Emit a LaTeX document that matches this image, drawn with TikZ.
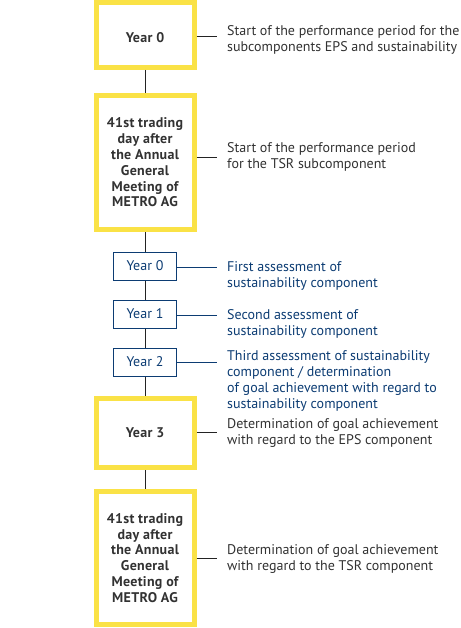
\documentclass[tikz,border=0pt]{standalone}
\usepackage{fontspec}
\setmainfont{PT Sans}
\definecolor{myyellow}{RGB}{250,226,70}
\definecolor{myblue}{RGB}{12,60,115}
\definecolor{mygray}{RGB}{50,50,50}
\definecolor{myline}{RGB}{35,35,35}
\begin{document}
\begin{tikzpicture}[x=1pt,y=-1pt,
  bigbox/.style={draw=myyellow,line width=5pt,minimum width=98pt,inner sep=0pt,align=center,
    font=\fontsize{14}{15.8}\selectfont\bfseries\addfontfeatures{LetterSpace=2},text=mygray},
  smallbox/.style={draw=myblue,line width=1pt,minimum width=63pt,minimum height=28pt,inner sep=0pt,
    font=\fontsize{14}{16}\selectfont,text=myblue},
  desc/.style={anchor=west,inner sep=0pt,align=left,font=\fontsize{14}{16}\selectfont,text=mygray},
  bdesc/.style={desc,text=myblue},
  conn/.style={draw=myline,line width=1pt},
  bconn/.style={draw=myblue,line width=1pt}]
\useasboundingbox (0,0) rectangle (460,628);
\node[bigbox,minimum height=65pt] (b1) at (145,35) {\raisebox{-8pt}[0pt][0pt]{Year 0}};
\node[bigbox,minimum height=134pt] (b2) at (145,162.5) {41st trading\\day after\\the Annual\\General\\Meeting of\\METRO AG};
\node[smallbox] (s0) at (145,266) {Year 0};
\node[smallbox] (s1) at (145,314) {Year 1};
\node[smallbox] (s2) at (145,362) {Year 2};
\node[bigbox,minimum height=69pt] (b3) at (145,433) {Year 3};
\node[bigbox,minimum height=133pt] (b4) at (145,558) {41st trading\\day after\\the Annual\\General\\Meeting of\\METRO AG};
% vertical connectors
\draw[conn] (b1.south) -- (b2.north);
\draw[conn] (b2.south) -- (s0.north);
\draw[conn] (s0.south) -- (s1.north);
\draw[conn] (s1.south) -- (s2.north);
\draw[conn] (s2.south) -- (b3.north);
\draw[conn] (b3.south) -- (b4.north);
% horizontal connectors
\coordinate (e1) at (217,37);
\coordinate (e2) at (217,158);
\coordinate (e3) at (217,267);
\coordinate (e4) at (217,315);
\coordinate (e5) at (217,362);
\coordinate (e6) at (217,432);
\coordinate (e7) at (217,558);
\draw[conn] (b1.east |- e1) -- (e1);
\draw[conn] (b2.east |- e2) -- (e2);
\draw[bconn] (s0.east |- e3) -- (e3);
\draw[bconn] (s1.east |- e4) -- (e4);
\draw[bconn] (s2.east |- e5) -- (e5);
\draw[conn] (b3.east |- e6) -- (e6);
\draw[conn] (b4.east |- e7) -- (e7);
% descriptions
\node[desc] (d1) at (227,39.5) {Start of the performance period for the\\subcomponents EPS and sustainability};
\node[desc] (d2) at (227,156.5) {Start of the performance period\\for the TSR subcomponent};
\node[bdesc] (d3) at (227,275.5) {First assessment of\\sustainability component};
\node[bdesc] (d4) at (227,323.5) {Second assessment of\\sustainability component};
\node[bdesc] (d5) at (227,380.5) {Third assessment of sustainability\\component / determination\\of goal achievement with regard to\\sustainability component};
\node[desc] (d6) at (227,433.5) {Determination of goal achievement\\with regard to the EPS component};
\node[desc] (d7) at (227,559) {Determination of goal achievement\\with regard to the TSR component};
\end{tikzpicture}
\end{document}
